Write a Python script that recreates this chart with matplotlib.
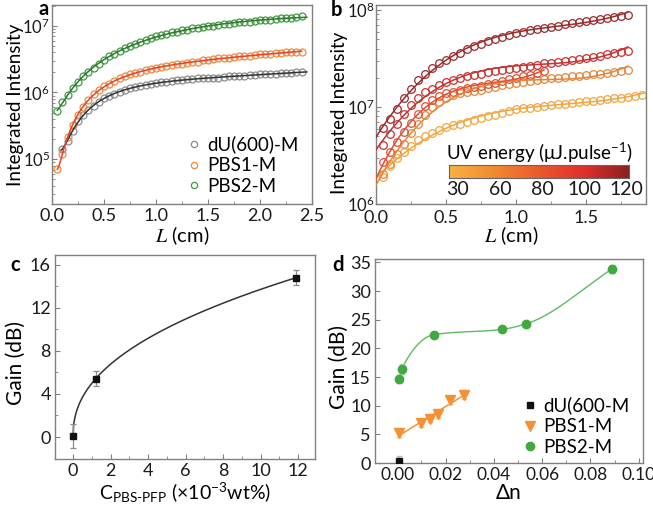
import numpy as np
import matplotlib
matplotlib.use('Agg')
import matplotlib.pyplot as plt
from matplotlib.colors import LinearSegmentedColormap
from matplotlib.lines import Line2D
from matplotlib.ticker import LogLocator, MultipleLocator, NullFormatter

plt.rcParams['font.family'] = ['Lato', 'DejaVu Sans']
plt.rcParams['mathtext.fontset'] = 'custom'
plt.rcParams['mathtext.rm'] = 'Lato'
plt.rcParams['mathtext.it'] = 'Lato:italic'
plt.rcParams['axes.edgecolor'] = '#808080'
plt.rcParams['axes.linewidth'] = 1.0
plt.rcParams['xtick.color'] = '#808080'
plt.rcParams['ytick.color'] = '#808080'
plt.rcParams['xtick.labelcolor'] = '#1a1a1a'
plt.rcParams['ytick.labelcolor'] = '#1a1a1a'
plt.rcParams['xtick.direction'] = 'in'
plt.rcParams['ytick.direction'] = 'in'

# ---------------- Panel a data (log10 of integrated intensity) ----------------
L_a = [0.05, 0.10, 0.15, 0.20, 0.25, 0.30, 0.35, 0.40, 0.45, 0.50, 0.55, 0.60,
       0.65, 0.70, 0.75, 0.80, 0.85, 0.90, 0.95, 1.00, 1.05, 1.10, 1.15, 1.20,
       1.25, 1.30, 1.35, 1.40, 1.45, 1.50, 1.55, 1.60, 1.65, 1.70, 1.75, 1.80,
       1.85, 1.90, 1.95, 2.00, 2.05, 2.10, 2.15, 2.20, 2.25, 2.30, 2.35, 2.40]
logI_pbs2 = [5.73, 5.85, 5.96, 6.07, 6.16, 6.24, 6.31, 6.37, 6.43, 6.49, 6.54, 6.58,
             6.62, 6.66, 6.70, 6.73, 6.76, 6.79, 6.82, 6.84, 6.86, 6.88, 6.90, 6.91,
             6.93, 6.94, 6.96, 6.97, 6.98, 6.99, 7.00, 7.01, 7.02, 7.03, 7.04, 7.05,
             7.06, 7.06, 7.07, 7.08, 7.09, 7.09, 7.10, 7.11, 7.12, 7.12, 7.13, 7.14]
logI_pbs1 = [4.85, 5.08, 5.33, 5.52, 5.67, 5.79, 5.89, 5.97, 6.03, 6.09, 6.13, 6.17,
             6.21, 6.24, 6.27, 6.29, 6.31, 6.33, 6.35, 6.37, 6.38, 6.40, 6.41, 6.42,
             6.43, 6.44, 6.45, 6.46, 6.48, 6.49, 6.50, 6.51, 6.52, 6.52, 6.53, 6.54,
             6.55, 6.55, 6.56, 6.57, 6.57, 6.58, 6.59, 6.59, 6.60, 6.60, 6.61, 6.61]
logI_du = [5.16, 5.27, 5.43, 5.57, 5.67, 5.74, 5.80, 5.86, 5.91, 5.95, 5.98,
           6.01, 6.04, 6.06, 6.08, 6.10, 6.11, 6.13, 6.14, 6.15, 6.16, 6.17, 6.18,
           6.19, 6.20, 6.20, 6.21, 6.22, 6.22, 6.21, 6.22, 6.23, 6.24, 6.24, 6.25,
           6.25, 6.26, 6.26, 6.27, 6.27, 6.28, 6.28, 6.29, 6.29, 6.29, 6.30, 6.30]
labels_a = ['dU(600)-M', 'PBS1-M', 'PBS2-M']

# ---------------- Panel b data ----------------
L_b = [0.05, 0.10, 0.15, 0.20, 0.25, 0.30, 0.35, 0.40, 0.45, 0.50, 0.55, 0.60,
       0.65, 0.70, 0.75, 0.80, 0.85, 0.90, 0.95, 1.00, 1.05, 1.10, 1.15, 1.20,
       1.25, 1.30, 1.35, 1.40, 1.45, 1.50, 1.55, 1.60, 1.65, 1.70, 1.75, 1.80,
       1.85, 1.90]
logI_120 = [6.78, 6.88, 6.98, 7.09, 7.19, 7.28, 7.34, 7.40, 7.45, 7.49, 7.53, 7.56,
            7.60, 7.63, 7.655, 7.68, 7.70, 7.72, 7.74, 7.76, 7.775, 7.79, 7.80, 7.815,
            7.83, 7.84, 7.855, 7.865, 7.88, 7.89, 7.90, 7.91, 7.92, 7.93, 7.94, 7.95]
logI_100 = [6.61, 6.72, 6.83, 6.93, 7.02, 7.09, 7.15, 7.19, 7.23, 7.26, 7.28, 7.30,
            7.315, 7.33, 7.345, 7.36, 7.37, 7.385, 7.395, 7.405, 7.415, 7.425, 7.435, 7.45,
            7.455, 7.465, 7.475, 7.485, 7.50, 7.51, 7.52, 7.53, 7.545, 7.555, 7.57, 7.58]
logI_80 = [6.43, 6.535, 6.64, 6.74, 6.84, 6.93, 7.01, 7.07, 7.11, 7.14, 7.16, 7.18,
           7.195, 7.21, 7.22, 7.235, 7.25, 7.27, 7.285, 7.30, 7.315, 7.33, 7.35, 7.37]
logI_60 = [6.31, 6.415, 6.52, 6.62, 6.73, 6.83, 6.92, 7.00, 7.05, 7.09, 7.12, 7.14,
           7.155, 7.17, 7.18, 7.195, 7.21, 7.225, 7.235, 7.245, 7.255, 7.265, 7.275, 7.285,
           7.295, 7.30, 7.31, 7.315, 7.325, 7.33, 7.34, 7.345, 7.355, 7.36, 7.37, 7.38]
logI_30 = [6.28, 6.39, 6.47, 6.54, 6.60, 6.66, 6.70, 6.73, 6.76, 6.79, 6.81, 6.83,
           6.85, 6.87, 6.89, 6.905, 6.92, 6.94, 6.96, 6.975, 6.985, 6.995, 7.005, 7.01,
           7.02, 7.03, 7.035, 7.045, 7.05, 7.06, 7.065, 7.075, 7.08, 7.09, 7.095, 7.10,
           7.11, 7.12]
uv_energies = [30, 60, 80, 100, 120]

# ---------------- Panel c data ----------------
conc = [0.0, 1.2, 11.9]
gain_c = [0.1, 5.4, 14.8]
gain_c_err = [1.1, 0.7, 0.7]

# ---------------- Panel d data ----------------
dn_du = [0.0007]
gain_du = [0.3]
err_du = [1.0]
dn_pbs1 = [0.0007, 0.0097, 0.0135, 0.0170, 0.0218, 0.0277]
gain_pbs1 = [5.2, 6.9, 7.7, 8.5, 11.0, 11.9]
err_pbs1 = [0.6, 0.6, 0.6, 0.6, 0.7, 0.8]
dn_pbs2 = [0.0007, 0.0018, 0.0152, 0.0432, 0.0535, 0.0891]
gain_pbs2 = [14.7, 16.4, 22.4, 23.3, 24.3, 33.9]
err_pbs2 = [0.7, 0.8, 0.5, 0.5, 0.5, 0.7]
labels_d = ['dU(600-M', 'PBS1-M', 'PBS2-M']


def pchip(x, y, xs):
    x = np.asarray(x, float); y = np.asarray(y, float)
    h = np.diff(x); delta = np.diff(y) / h
    n = len(x); m = np.zeros(n)
    for k in range(1, n - 1):
        if delta[k - 1] * delta[k] > 0:
            w1 = 2 * h[k] + h[k - 1]; w2 = h[k] + 2 * h[k - 1]
            m[k] = (w1 + w2) / (w1 / delta[k - 1] + w2 / delta[k])
    m[0] = delta[0]; m[-1] = delta[-1]
    idx = np.clip(np.searchsorted(x, xs) - 1, 0, n - 2)
    t = (xs - x[idx]) / h[idx]
    h00 = 2 * t**3 - 3 * t**2 + 1; h10 = t**3 - 2 * t**2 + t
    h01 = -2 * t**3 + 3 * t**2; h11 = t**3 - t**2
    return h00 * y[idx] + h10 * h[idx] * m[idx] + h01 * y[idx + 1] + h11 * h[idx] * m[idx + 1]


fig = plt.figure(figsize=(6.53, 5.05), dpi=100)
W, H = 653, 505

def add_ax(l, t, r, b):
    return fig.add_axes([l / W, 1 - b / H, (r - l) / W, (b - t) / H])

def ylabel_at(ax, text, right_px, left_px, width_px, fs, yfrac=0.5):
    ax.set_ylabel(text, fontsize=fs)
    ax.yaxis.set_label_coords((right_px - left_px) / width_px, yfrac)

TICK = 12.5
LAB = 14.5

# ---------------- Panel a ----------------
axa = add_ax(52, 5, 312, 204)
La = np.array(L_a)
series_a = [(La[1:], np.array(logI_du), '#8c8c8c', '#333333', 0.087, 2.45),
            (La, np.array(logI_pbs1), '#f08a3c', '#e8402a', 0.05, 2.40),
            (La, np.array(logI_pbs2), '#3f9a3f', '#2b7a2b', 0.05, 2.45)]
handles = []
for (x, ly, mc, lc, x0, x1), lab in zip(series_a, labels_a):
    coef = np.polyfit(np.log10(x), ly, 4)
    xf = np.linspace(x0, x1, 300)
    axa.plot(xf, 10**np.polyval(coef, np.log10(xf)), color=lc, lw=1.1, zorder=3)
    axa.plot(x, 10**ly, 'o', mfc='none', mec=mc, ms=5, mew=0.9, zorder=2)
    handles.append(Line2D([], [], marker='o', ls='none', mfc='none', mec=mc, ms=4.5, mew=0.9, label=lab))
axa.set_yscale('log')
axa.set_xlim(0, 2.5)
axa.set_ylim(10**4.33, 10**7.31)
axa.xaxis.set_major_locator(MultipleLocator(0.5))
axa.xaxis.set_minor_locator(MultipleLocator(0.25))
axa.xaxis.set_major_formatter(matplotlib.ticker.FormatStrFormatter('%.1f'))
axa.yaxis.set_major_locator(LogLocator(base=10, numticks=10))
axa.yaxis.set_minor_locator(LogLocator(base=10, subs=np.arange(2, 10), numticks=10))
axa.yaxis.set_minor_formatter(NullFormatter())
axa.tick_params(axis='x', labelsize=TICK + 0.5, pad=3)
axa.tick_params(axis='y', labelsize=12, pad=1.5)
axa.set_xlabel('$L$ (cm)', fontsize=LAB, math_fontfamily='stix', labelpad=0)
ylabel_at(axa, 'Integrated Intensity', 24, 52, 260, 13.5)
axa.legend(handles=handles, loc='lower right', bbox_to_anchor=(1.0, -0.02), frameon=False,
           fontsize=TICK + 1, handletextpad=0.2, labelspacing=0.2, handlelength=1.0,
           borderaxespad=0.3)

# ---------------- Panel b ----------------
axb = add_ax(376, 5, 646, 204)
cmap = LinearSegmentedColormap.from_list('uv', ['#f9b243', '#f08a30', '#ea5a2c', '#e0302c', '#8b2020'],
                                         N=256)
ser_colors = ['#f2a540', '#e4873a', '#dd5036', '#c93231', '#9b2a2b']
Lb = np.array(L_b)
series_b = [logI_30, logI_60, logI_80, logI_100, logI_120]
xmax_b = [1.93, 1.80, 1.20, 1.80, 1.80]
for ly, c, xm in zip(series_b, ser_colors, xmax_b):
    ly = np.array(ly)
    x = Lb[:len(ly)]
    coef = np.polyfit(x, ly, 3)
    xf = np.linspace(0, xm, 300)
    axb.plot(xf, 10**np.polyval(coef, xf), color=c, lw=1.1, zorder=3)
    axb.plot(x, 10**ly, 'o', mfc='none', mec=c, ms=5.5, mew=0.9, zorder=2)
axb.set_yscale('log')
axb.set_xlim(0, 1.93)
axb.set_ylim(1e6, 10**8.052)
axb.xaxis.set_major_locator(MultipleLocator(0.5))
axb.xaxis.set_minor_locator(MultipleLocator(0.25))
axb.xaxis.set_major_formatter(matplotlib.ticker.FormatStrFormatter('%.1f'))
axb.yaxis.set_major_locator(LogLocator(base=10, numticks=10))
axb.yaxis.set_minor_locator(LogLocator(base=10, subs=np.arange(2, 10), numticks=10))
axb.yaxis.set_minor_formatter(NullFormatter())
axb.tick_params(axis='x', labelsize=TICK + 0.5, pad=4)
axb.tick_params(axis='y', labelsize=12, pad=1)
axb.set_xlabel('$L$ (cm)', fontsize=LAB, math_fontfamily='stix', labelpad=-1)
ylabel_at(axb, 'Integrated Intensity', 348.5, 376, 270, 13.5, 0.46)

# colorbar inset
cax = add_ax(449, 165, 629, 178)
grad = np.linspace(0, 1, 256)[None, :]
cax.imshow(grad, aspect='auto', cmap=cmap, extent=[-0.2, len(uv_energies) - 0.95, 0, 1])
cax.set_xlim(-0.2, len(uv_energies) - 0.95)
cax.set_yticks([])
cax.set_xticks(range(len(uv_energies)))
cax.set_xticklabels([str(e) for e in uv_energies])
cax.tick_params(axis='x', length=0, labelsize=TICK + 1.5, pad=2)
for s in cax.spines.values():
    s.set_color('#666666'); s.set_linewidth(0.8)
cax.set_title(r'UV energy ($\mathregular{\mu}$J.pulse$^{\mathregular{-1}}$)', fontsize=TICK + 1, pad=4)

# ---------------- Panel c ----------------
axc = add_ax(55, 255, 315, 459)
cx = np.array(conc); cy = np.array(gain_c)
bexp = np.log(cy[2] / cy[1]) / np.log(cx[2] / cx[1])
aco = cy[1] / cx[1]**bexp
xf = np.linspace(0, cx[2], 400)
axc.plot(xf, aco * xf**bexp, color='#333333', lw=1.1)
axc.errorbar(conc, gain_c, yerr=gain_c_err, fmt='s', color='#111111', ms=5,
             ecolor='#8a8a8a', elinewidth=0.9, capsize=2.5, capthick=0.9)
axc.set_xlim(-0.96, 12.9)
axc.set_ylim(-2.04, 16.9)
axc.xaxis.set_major_locator(MultipleLocator(2))
axc.xaxis.set_minor_locator(MultipleLocator(1))
axc.yaxis.set_major_locator(MultipleLocator(4))
axc.yaxis.set_minor_locator(MultipleLocator(2))
axc.tick_params(labelsize=TICK + 0.5, pad=3)
axc.set_xlabel(r'C$_{\mathregular{PBS\text{-}PFP}}$ (×10$^{\mathregular{-3}}$wt%)', fontsize=LAB - 0.5, labelpad=1)
ylabel_at(axc, 'Gain (dB)', 26, 55, 260, LAB + 0.5, 0.47)

# ---------------- Panel d ----------------
axd = add_ax(375, 259, 643, 463)
xf2 = np.linspace(dn_pbs2[0], dn_pbs2[-1], 400)
axd.plot(xf2, pchip(dn_pbs2, gain_pbs2, xf2), color='#62b862', lw=1.0, zorder=2)
cf = np.polyfit(dn_pbs1, gain_pbs1, 1)
xf1 = np.linspace(dn_pbs1[0], dn_pbs1[-1], 50)
axd.plot(xf1, np.polyval(cf, xf1), color='#f0913a', lw=1.1, zorder=2)
axd.errorbar(dn_du, gain_du, yerr=err_du, fmt='s', color='#111111', ms=5, ecolor='#bbbbbb',
             elinewidth=0.9, capsize=2, zorder=3, label=labels_d[0])
axd.errorbar(dn_pbs1, gain_pbs1, yerr=err_pbs1, fmt='v', color='#f39134', ms=7, ecolor='#f7c08a',
             elinewidth=0.9, capsize=2, zorder=3, label=labels_d[1])
axd.errorbar(dn_pbs2, gain_pbs2, yerr=err_pbs2, fmt='o', color='#40aa40', ms=6, ecolor='#a8d8a8',
             elinewidth=0.9, capsize=2, zorder=3, label=labels_d[2])
axd.set_xlim(-0.0092, 0.1018)
axd.set_ylim(0, 35.6)
axd.xaxis.set_major_locator(MultipleLocator(0.02))
axd.xaxis.set_minor_locator(MultipleLocator(0.01))
axd.xaxis.set_major_formatter(matplotlib.ticker.FormatStrFormatter('%.2f'))
axd.yaxis.set_major_locator(MultipleLocator(5))
axd.tick_params(axis='x', labelsize=12.5, pad=3)
axd.tick_params(axis='y', labelsize=TICK + 0.5, pad=3)
axd.set_xlabel('Δn', fontsize=LAB + 0.5, labelpad=0)
ylabel_at(axd, 'Gain (dB)', 349, 375, 268, LAB + 0.5, 0.47)
leg_h = [Line2D([], [], marker='s', ls='none', color='#111111', ms=5),
         Line2D([], [], marker='v', ls='none', color='#f39134', ms=7),
         Line2D([], [], marker='o', ls='none', color='#40aa40', ms=6)]
axd.legend(leg_h, labels_d, loc='lower right', bbox_to_anchor=(0.99, -0.02), frameon=False,
           fontsize=TICK + 1, handletextpad=0.2, labelspacing=0.2, handlelength=1.0,
           borderaxespad=0.2)

# panel letters
for lab, (px, py) in zip('abcd', [(44, 9), (337, 10), (15, 265), (338, 265)]):
    fig.text(px / W, 1 - py / H, lab, fontsize=LAB, fontweight='bold', ha='center', va='center')

fig.savefig('out.png', dpi=100)
